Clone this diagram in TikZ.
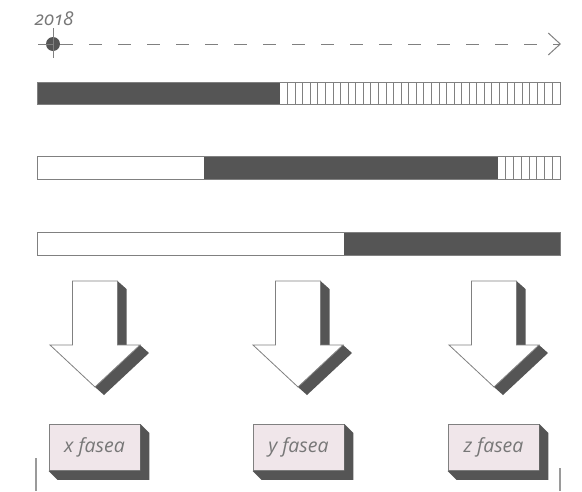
\documentclass[tikz,border=0pt]{standalone}
\usepackage{fontspec}
\newfontfamily\labelfont{Open Sans}
\newfontfamily\yearfont{Open Sans}[Numbers=OldStyle]
\usetikzlibrary{arrows.meta}
\definecolor{darkbar}{HTML}{555555}
\definecolor{edgegray}{HTML}{808080}
\definecolor{textgray}{HTML}{777777}
\definecolor{boxpink}{HTML}{F0E6EA}
\tikzset{
  bar/.style={draw=edgegray,line width=1pt},
  stripe/.style={draw=edgegray,line width=0.8pt},
  fasebox/.style={draw=edgegray,line width=0.8pt,fill=boxpink,minimum width=91pt,
    minimum height=46pt,inner sep=0pt,text=textgray,
    font=\labelfont\fontsize{19.5}{24}\selectfont\itshape},
  bigarrow/.style={draw=edgegray,line width=0.8pt,fill=white}
}
\begin{document}
\begin{tikzpicture}[x=1pt,y=-1pt]
  \useasboundingbox (0,0) rectangle (582,491);
  % timeline
  \node[circle,fill=darkbar,minimum size=14pt,inner sep=0pt] (start) at (53,44) {};
  \node[text=textgray,font=\yearfont\fontsize{19}{22}\selectfont\itshape] (year) at (54,19) {2018};
  \coordinate (end) at (561,44);
  \draw[edgegray,line width=1pt] (start) ++(-15,0) -- ++(15,0);
  \draw[edgegray,line width=1pt] (start) ++(0,-16) -- ++(0,30);
  \draw[edgegray,line width=1pt,dash pattern=on 13pt off 16pt,
    -{Straight Barb[length=12pt,width=22pt]}] (start) -- (end);
  %
  \fill[darkbar] (37,82) rectangle (280,104);
  \foreach \i in {1,...,36}
    \draw[stripe] ({280+\i*280/37},82) -- ++(0,22);
  \draw[bar] (37,82) rectangle (560,104);
  %
  \fill[darkbar] (204,156) rectangle (498,179);
  \foreach \i in {1,...,7}
    \draw[stripe] ({498+\i*62/8},156) -- ++(0,23);
  \draw[bar] (37,156) rectangle (560,179);
  %
  \fill[darkbar] (344,232) rectangle (560,255);
  \draw[bar] (37,232) rectangle (560,255);
  %
  \foreach \c in {95,298,494} {
    \fill[darkbar] (\c+22.5,281) -- ++(9,8) -- (\c+31.5,345) -- (\c+45,345) -- ++(9,8)
      -- (\c+9,395) -- (\c,387) -- cycle;
    \draw[bigarrow] (\c-22.5,281) -- (\c+22.5,281) -- (\c+22.5,345) -- (\c+45,345)
      -- (\c,387) -- (\c-45,345) -- (\c-22.5,345) -- cycle;
  }
  %
  \node[fasebox] (xf) at (94.5,447.5) {x fasea};
  \node[fasebox] (yf) at (298.5,447.5) {y fasea};
  \node[fasebox] (zf) at (493.5,447.5) {z fasea};
  \foreach \n in {xf,yf,zf}
    \fill[darkbar] (\n.north east) -- ++(9,9) -- ([shift={(9,9)}]\n.south east)
      -- ([shift={(9,9)}]\n.south west) -- (\n.south west) -- (\n.south east) -- cycle;
  %
  \draw[edgegray!80,line width=2pt] (36,458) -- (36,491);
  \draw[edgegray!80,line width=2pt] (560,468) -- (560,491);
\end{tikzpicture}
\end{document}
